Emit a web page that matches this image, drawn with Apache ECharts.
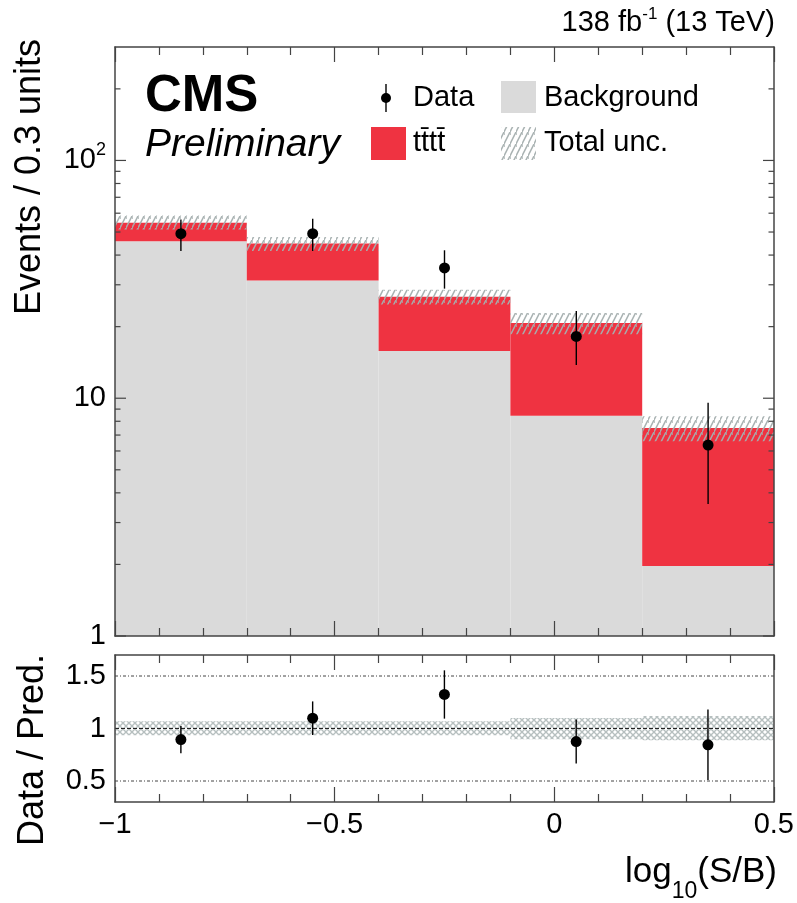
<!DOCTYPE html>
<html>
<head>
<meta charset="utf-8">
<script src="https://cdn.jsdelivr.net/npm/echarts@6/dist/echarts.min.js"></script>
<style>
  html, body { margin: 0; padding: 0; background: #fff; }
  #chart { width: 797px; height: 903px; }
</style>
</head>
<body>
<div id="chart"></div>
<script>
// ---- data ----
const binEdges = [-1, -0.7, -0.4, -0.1, 0.2, 0.5];
const binCenters = [-0.85, -0.55, -0.25, 0.05, 0.35];
const background = [45.7, 31.3, 15.8, 8.44, 1.97];
const totalPred = [54.7, 44.7, 26.7, 20.7, 7.5];
const totalUncLow = [51.3, 41.6, 24.8, 18.6, 6.6];
const totalUncHigh = [58.7, 47.6, 28.6, 22.8, 8.4];
const dataVals = [49.2, 49.2, 35.3, 18.2, 6.35];
const dataErrLow = [41.6, 41.6, 28.9, 13.8, 3.59];
const dataErrHigh = [56.5, 56.9, 41.9, 23.3, 9.56];
const ratioVals = [0.895, 1.098, 1.324, 0.876, 0.845];
const ratioErr = [0.13, 0.16, 0.23, 0.21, 0.335];
const ratioUncLow = [0.936, 0.936, 0.936, 0.898, 0.889];
const ratioUncHigh = [1.069, 1.069, 1.069, 1.10, 1.12];

// axis ticks / labels
const xTickLabels = { '-1': '\u22121', '-0.5': '\u22120.5', '0': '0', '0.5': '0.5' };
const logMajorTicks = [1, 10, 100];
const logMinorTicks = [2, 3, 4, 5, 6, 7, 8, 9, 20, 30, 40, 50, 60, 70, 80, 90, 200];
const ratioTickValues = [0.5, 1, 1.5];
const ratioRefLines = [0.5, 1, 1.5];

const FONT = '"Liberation Sans", Arial, Helvetica, sans-serif';
const RED = '#ef3341';
const GREY = '#dadada';
const FRAME = '#444';

// hatch fill used for the total uncertainty band in the upper panel
function makeSlashHatch() {
  const c = document.createElement('canvas');
  c.width = 6; c.height = 12;
  const g = c.getContext('2d');
  g.strokeStyle = 'rgba(165,175,175,0.95)';
  g.lineWidth = 1.5;
  g.beginPath();
  g.moveTo(-1, 14); g.lineTo(7, -2);
  g.moveTo(0, 3); g.lineTo(0, 0);
  g.stroke();
  return { image: c, repeat: 'repeat' };
}
// cross hatch used for the uncertainty band in the ratio panel
function makeCrossHatch() {
  const c = document.createElement('canvas');
  c.width = 6; c.height = 6;
  const g = c.getContext('2d');
  g.strokeStyle = 'rgba(178,188,188,0.95)';
  g.lineWidth = 1.4;
  g.beginPath();
  g.moveTo(-1, 7); g.lineTo(7, -1);
  g.moveTo(-1, -1); g.lineTo(7, 7);
  g.stroke();
  return { image: c, repeat: 'repeat' };
}
const slashHatch = makeSlashHatch();
const crossHatch = makeCrossHatch();

const LOG_MIN = 1, LOG_MAX = 300;
const R_MIN = 0.3, R_MAX = 1.7;

function binRect(api, style) {
  const p0 = api.coord([api.value(0), api.value(3)]);
  const p1 = api.coord([api.value(1), api.value(2)]);
  return {
    type: 'rect',
    shape: { x: p0[0], y: p0[1], width: p1[0] - p0[0], height: p1[1] - p0[1] },
    style: style
  };
}

function pointWithBar(api) {
  const c = api.coord([api.value(0), api.value(1)]);
  const lo = api.coord([api.value(0), api.value(2)]);
  const hi = api.coord([api.value(0), api.value(3)]);
  return {
    type: 'group',
    children: [
      { type: 'line', shape: { x1: lo[0], y1: lo[1], x2: hi[0], y2: hi[1] },
        style: { stroke: '#000', lineWidth: 1.4 } },
      { type: 'circle', shape: { cx: c[0], cy: c[1], r: 5.5 }, style: { fill: '#000' } }
    ]
  };
}

function yTickRenderer(len) {
  return function (params, api) {
    const cs = params.coordSys;
    const y = api.coord([binEdges[0], api.value(1)])[1];
    return {
      type: 'group',
      children: [
        { type: 'line', shape: { x1: cs.x, y1: y, x2: cs.x + len, y2: y },
          style: { stroke: FRAME, lineWidth: 1.2 } },
        { type: 'line', shape: { x1: cs.x + cs.width - len, y1: y, x2: cs.x + cs.width, y2: y },
          style: { stroke: FRAME, lineWidth: 1.2 } }
      ]
    };
  };
}

const xAxisCommon = {
  type: 'value', min: -1, max: 0.5, interval: 0.5,
  axisLine: { show: true, onZero: false, lineStyle: { color: FRAME, width: 1.5 } },
  axisTick: { show: true, inside: true, length: 15, lineStyle: { color: FRAME, width: 1.2 } },
  minorTick: { show: true, splitNumber: 5, length: 8, lineStyle: { color: FRAME, width: 1.2 } },
  splitLine: { show: false },
  axisLabel: { show: false },
  z: 5
};

const yLine = { show: true, onZero: false, lineStyle: { color: FRAME, width: 1.5 } };

const option = {
  animation: false,
  backgroundColor: '#fff',
  grid: [
    { left: 115, top: 47, width: 659, height: 589 },
    { left: 115, top: 655, width: 659, height: 147 }
  ],
  xAxis: [
    Object.assign({}, xAxisCommon, { gridIndex: 0, position: 'bottom' }),
    Object.assign({}, xAxisCommon, { gridIndex: 0, position: 'top' }),
    Object.assign({}, xAxisCommon, {
      gridIndex: 1, position: 'bottom',
      axisLabel: {
        show: true, margin: 8, fontSize: 29, fontFamily: FONT, color: '#000',
        formatter: v => xTickLabels[String(v)] !== undefined ? xTickLabels[String(v)] : ''
      }
    }),
    Object.assign({}, xAxisCommon, { gridIndex: 1, position: 'top' })
  ],
  yAxis: [
    {
      gridIndex: 0, type: 'log', logBase: 10, min: LOG_MIN, max: LOG_MAX, position: 'left',
      axisLine: yLine,
      axisTick: { show: false }, splitLine: { show: false }, minorTick: { show: false },
      axisLabel: {
        margin: 9, fontSize: 29, fontFamily: FONT, color: '#000',
        formatter: v => v === 1 ? '1' : v === 10 ? '10' : v === 100 ? '10{sup|2}' : '',
        rich: { sup: { fontSize: 18, fontFamily: FONT, color: '#000', padding: [0, 0, 20, 0] } }
      },
      z: 5
    },
    {
      gridIndex: 0, type: 'log', logBase: 10, min: LOG_MIN, max: LOG_MAX, position: 'right',
      axisLine: yLine,
      axisTick: { show: false }, splitLine: { show: false }, axisLabel: { show: false },
      z: 5
    },
    {
      gridIndex: 1, type: 'value', min: R_MIN, max: R_MAX, position: 'left',
      axisLine: yLine,
      axisTick: { show: false }, splitLine: { show: false },
      axisLabel: {
        margin: 9, fontSize: 29, fontFamily: FONT, color: '#000',
        customValues: ratioTickValues,
        formatter: v => String(v)
      },
      z: 5
    },
    {
      gridIndex: 1, type: 'value', min: R_MIN, max: R_MAX, position: 'right',
      axisLine: yLine,
      axisTick: { show: false }, splitLine: { show: false }, axisLabel: { show: false },
      z: 5
    }
  ],
  series: [
    {
      name: 'Background', type: 'custom', xAxisIndex: 0, yAxisIndex: 0, z: 1,
      encode: { x: [0, 1], y: [2, 3] },
      data: background.map((v, i) => [binEdges[i], binEdges[i + 1], LOG_MIN, v]),
      renderItem: (p, api) => binRect(api, { fill: GREY })
    },
    {
      name: 'tt\u0304tt\u0304', type: 'custom', xAxisIndex: 0, yAxisIndex: 0, z: 1,
      encode: { x: [0, 1], y: [2, 3] },
      data: totalPred.map((v, i) => [binEdges[i], binEdges[i + 1], background[i], v]),
      renderItem: (p, api) => binRect(api, { fill: RED })
    },
    {
      name: 'Total unc.', type: 'custom', xAxisIndex: 0, yAxisIndex: 0, z: 2,
      encode: { x: [0, 1], y: [2, 3] },
      data: totalPred.map((v, i) => [binEdges[i], binEdges[i + 1], totalUncLow[i], totalUncHigh[i]]),
      renderItem: (p, api) => binRect(api, { fill: slashHatch })
    },
    {
      name: 'Data', type: 'custom', xAxisIndex: 0, yAxisIndex: 0, z: 4,
      encode: { x: 0, y: [1, 2, 3] },
      data: dataVals.map((v, i) => [binCenters[i], v, dataErrLow[i], dataErrHigh[i]]),
      renderItem: (p, api) => pointWithBar(api)
    },
    {
      name: 'majorTicks', type: 'custom', xAxisIndex: 0, yAxisIndex: 0, z: 6, silent: true,
      encode: { x: 0, y: 1 },
      data: logMajorTicks.map(v => [binEdges[0], v]),
      renderItem: yTickRenderer(11)
    },
    {
      name: 'minorTicks', type: 'custom', xAxisIndex: 0, yAxisIndex: 0, z: 6, silent: true,
      encode: { x: 0, y: 1 },
      data: logMinorTicks.map(v => [binEdges[0], v]),
      renderItem: yTickRenderer(5.5)
    },
    // ratio panel
    {
      name: 'ratioUnc', type: 'custom', xAxisIndex: 2, yAxisIndex: 2, z: 1,
      encode: { x: [0, 1], y: [2, 3] },
      data: ratioUncLow.map((v, i) => [binEdges[i], binEdges[i + 1], v, ratioUncHigh[i]]),
      renderItem: (p, api) => binRect(api, { fill: crossHatch })
    },
    {
      name: 'refLines', type: 'custom', xAxisIndex: 2, yAxisIndex: 2, z: 2, silent: true,
      encode: { x: 0, y: 1 },
      data: ratioRefLines.map(v => [binEdges[0], v]),
      renderItem: (params, api) => {
        const cs = params.coordSys;
        const v = api.value(1);
        const y = api.coord([binEdges[0], v])[1];
        return {
          type: 'line',
          shape: { x1: cs.x, y1: y, x2: cs.x + cs.width, y2: y },
          style: { stroke: v === 1 ? '#222' : '#444', lineWidth: 1,
                   lineDash: v === 1 ? [4, 2] : [3, 2, 1, 2] }
        };
      }
    },
    {
      name: 'ratioData', type: 'custom', xAxisIndex: 2, yAxisIndex: 2, z: 4,
      encode: { x: 0, y: [1, 2, 3] },
      data: ratioVals.map((v, i) => [binCenters[i], v, v - ratioErr[i], v + ratioErr[i]]),
      renderItem: (p, api) => pointWithBar(api)
    }
  ],
  graphic: [
    { type: 'text', x: 775, y: 23, style: {
        text: '138 fb{sup|-1} (13 TeV)', fontSize: 29, fontFamily: FONT, fill: '#000',
        align: 'right', verticalAlign: 'middle', textAlign: 'right', textVerticalAlign: 'middle',
        rich: { sup: { fontSize: 17, fontFamily: FONT, fill: '#000', padding: [0, 0, 18, 0] } }
    } },
    { type: 'text', x: 145, y: 97, z: 10, style: {
        text: 'CMS', fontSize: 51, fontWeight: 'bold', fontFamily: FONT, fill: '#000',
        align: 'left', verticalAlign: 'middle', textAlign: 'left', textVerticalAlign: 'middle'
    } },
    { type: 'text', x: 145, y: 145, z: 10, style: {
        text: 'Preliminary', fontSize: 39, fontStyle: 'italic', fontFamily: FONT, fill: '#000',
        align: 'left', verticalAlign: 'middle', textAlign: 'left', textVerticalAlign: 'middle'
    } },
    // legend
    { type: 'line', z: 10, shape: { x1: 386, y1: 84, x2: 386, y2: 112 }, style: { stroke: '#000', lineWidth: 1.4 } },
    { type: 'circle', z: 10, shape: { cx: 386, cy: 98, r: 5 }, style: { fill: '#000' } },
    { type: 'text', x: 413, y: 98, z: 10, style: {
        text: 'Data', fontSize: 29, fontFamily: FONT, fill: '#000',
        align: 'left', verticalAlign: 'middle', textAlign: 'left', textVerticalAlign: 'middle'
    } },
    { type: 'rect', z: 10, shape: { x: 501, y: 81, width: 35, height: 32 }, style: { fill: GREY } },
    { type: 'text', x: 544, y: 98, z: 10, style: {
        text: 'Background', fontSize: 29, fontFamily: FONT, fill: '#000',
        align: 'left', verticalAlign: 'middle', textAlign: 'left', textVerticalAlign: 'middle'
    } },
    { type: 'rect', z: 10, shape: { x: 371, y: 127, width: 35, height: 33 }, style: { fill: RED } },
    { type: 'text', x: 413, y: 143, z: 10, style: {
        text: 'tt\u0304tt\u0304', fontSize: 29, fontFamily: FONT, fill: '#000',
        align: 'left', verticalAlign: 'middle', textAlign: 'left', textVerticalAlign: 'middle'
    } },
    { type: 'rect', z: 10, shape: { x: 501, y: 127, width: 35, height: 33 }, style: { fill: slashHatch } },
    { type: 'text', x: 544, y: 143, z: 10, style: {
        text: 'Total unc.', fontSize: 29, fontFamily: FONT, fill: '#000',
        align: 'left', verticalAlign: 'middle', textAlign: 'left', textVerticalAlign: 'middle'
    } },
    // axis titles
    { type: 'text', x: 30, y: 177, rotation: Math.PI / 2, style: {
        text: 'Events / 0.3 units', fontSize: 36, fontFamily: FONT, fill: '#000',
        align: 'center', verticalAlign: 'middle', textAlign: 'center', textVerticalAlign: 'middle'
    } },
    { type: 'text', x: 33, y: 750, rotation: Math.PI / 2, style: {
        text: 'Data / Pred.', fontSize: 36, fontFamily: FONT, fill: '#000',
        align: 'center', verticalAlign: 'middle', textAlign: 'center', textVerticalAlign: 'middle'
    } },
    { type: 'text', x: 777, y: 872, style: {
        text: 'log{sub|10}(S/B)', fontSize: 35, fontFamily: FONT, fill: '#000',
        align: 'right', verticalAlign: 'middle', textAlign: 'right', textVerticalAlign: 'middle',
        rich: { sub: { fontSize: 23, fontFamily: FONT, fill: '#000', padding: [40, 0, 0, 0] } }
    } }
  ]
};

const chart = echarts.init(document.getElementById('chart'), null, { renderer: 'canvas' });
chart.setOption(option);
</script>
</body>
</html>
